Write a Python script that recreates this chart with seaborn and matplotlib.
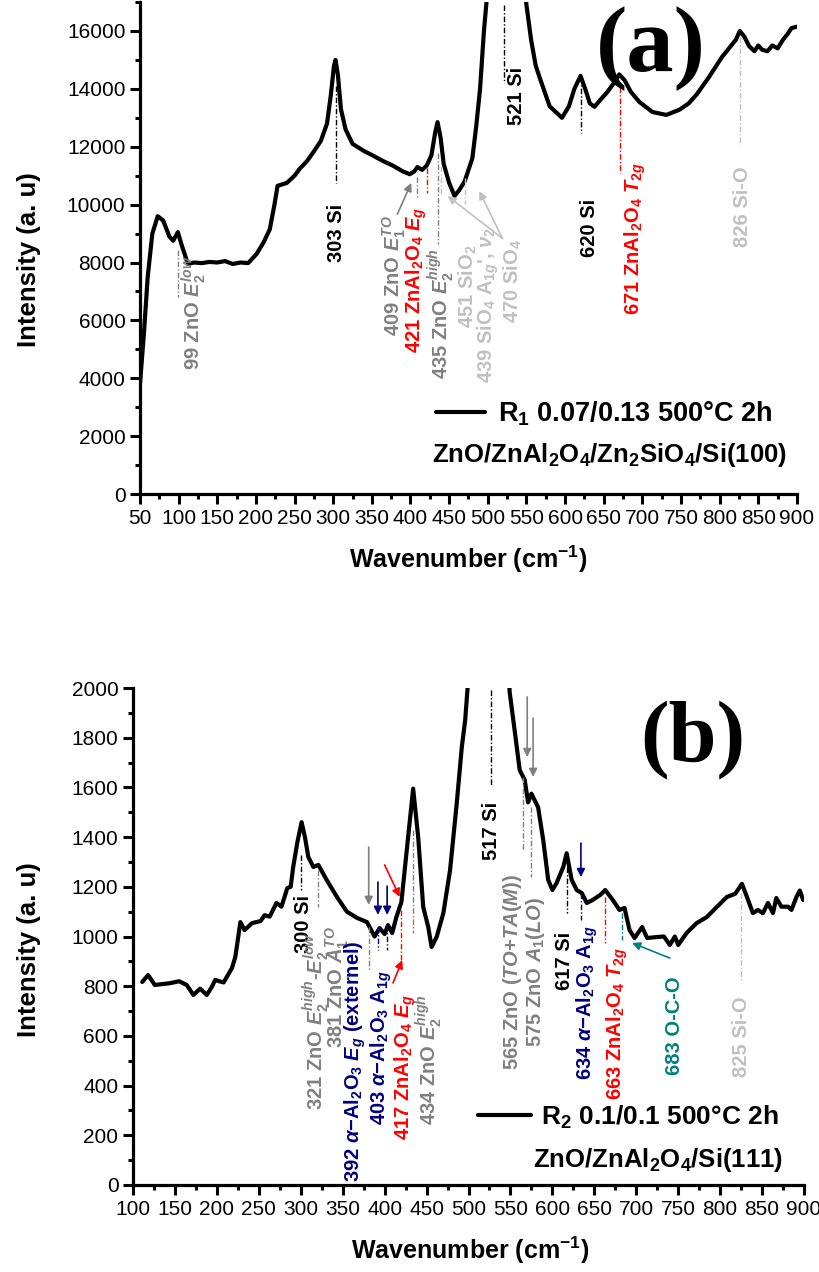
import matplotlib
matplotlib.use('Agg')
import matplotlib.pyplot as plt
import seaborn as sns
from matplotlib.ticker import MultipleLocator

# === Style ===
sns.set_theme(style='ticks')
plt.rcParams['font.family'] = ['Liberation Sans', 'DejaVu Sans']
plt.rcParams['font.weight'] = 'bold'
plt.rcParams['text.color'] = 'black'
plt.rcParams['axes.labelcolor'] = 'black'
plt.rcParams['xtick.color'] = 'black'
plt.rcParams['ytick.color'] = 'black'
plt.rcParams['mathtext.fontset'] = 'custom'
plt.rcParams['mathtext.rm'] = 'Liberation Sans:bold'
plt.rcParams['mathtext.it'] = 'Liberation Sans:italic:bold'
plt.rcParams['mathtext.bf'] = 'Liberation Sans:bold'

GRAY = '#808080'
LGRAY = '#c0c0c0'
NAVY = '#000080'
TEAL = '#008080'
RED = '#ff0000'
BLACK = '#000000'

# === Spectrum (a): R1, Si(100) ===
wn_a = [50, 55, 60, 66, 73, 80, 88, 93, 99, 104, 112, 120, 130, 140, 150, 160, 170, 180, 190, 201,
        210, 218, 224, 228, 240, 250, 257, 266, 274, 284, 292, 297, 301, 303, 306, 310, 316, 325, 340, 351,
        365, 377, 390, 399, 405, 409, 415, 421, 427, 432, 435, 439, 443, 450, 457, 463, 470, 480, 485, 490,
        495, 499, 505, 521, 540, 547, 550, 556, 562, 567, 580, 596, 605, 612, 620, 626, 632, 638, 645, 655,
        663, 670, 677, 685, 696, 713, 731, 748, 760, 770, 786, 803, 815, 821, 826, 832, 838, 845, 850, 855,
        862, 868, 875, 882, 888, 893, 900]
int_a = [3800, 5500, 7500, 9000, 9600, 9450, 8900, 8750, 9050, 8600, 7950, 8000, 7980, 8020, 8000, 8050, 7950, 8000, 7980, 8300,
         8700, 9150, 10000, 10650, 10750, 11000, 11250, 11500, 11800, 12200, 12800, 13800, 14800, 15000, 14500, 13300, 12600, 12100, 11850, 11700,
         11500, 11350, 11150, 11050, 11150, 11300, 11200, 11350, 11700, 12500, 12850, 12300, 11400, 10750, 10300, 10500, 10800, 11600, 12700, 14000,
         16000, 17200, 21000, 40000, 21000, 17800, 16900, 15700, 14800, 14400, 13400, 13000, 13400, 14000, 14450, 14000, 13500, 13380, 13600, 13900,
         14200, 14500, 14300, 13900, 13550, 13200, 13100, 13280, 13500, 13800, 14400, 15100, 15500, 15700, 16000, 15800, 15480, 15300, 15500, 15350,
         15300, 15500, 15400, 15700, 15900, 16100, 16150]

# === Spectrum (b): R2, Si(111) ===
wn_b = [111, 118, 126, 144, 155, 164, 172, 180, 188, 194, 198, 208, 218, 222, 228, 233, 242, 252, 257, 263,
        271, 277, 284, 288, 291, 296, 301, 305, 309, 315, 321, 331, 343, 355, 367, 379, 388, 394, 400, 404,
        409, 414, 420, 428, 434, 440, 446, 452, 456, 462, 470, 478, 486, 492, 496, 500, 510, 521, 535, 549,
        555, 561, 567, 571, 575, 583, 589, 595, 600, 605, 613, 617, 623, 629, 635, 641, 648, 657, 663, 672,
        680, 686, 692, 698, 707, 713, 725, 733, 740, 746, 750, 760, 772, 784, 796, 808, 818, 826, 832, 839,
        845, 851, 857, 863, 867, 873, 881, 885, 891, 895, 899]
int_b = [817, 845, 805, 812, 820, 805, 765, 790, 765, 797, 825, 815, 873, 918, 1058, 1026, 1054, 1062, 1086, 1080,
         1135, 1120, 1195, 1200, 1280, 1380, 1460, 1400, 1320, 1280, 1288, 1227, 1160, 1100, 1075, 1058, 1000, 1034, 1010, 1046,
         1014, 1078, 1139, 1400, 1595, 1400, 1119, 1038, 958, 998, 1094, 1267, 1537, 1762, 1870, 2050, 3500, 5000, 3500, 1985,
         1830, 1670, 1630, 1540, 1575, 1520, 1390, 1228, 1187, 1215, 1280, 1335, 1228, 1187, 1175, 1135, 1147, 1167, 1187, 1147,
         1107, 1115, 1026, 994, 1038, 994, 998, 1000, 966, 1000, 966, 1014, 1054, 1078, 1119, 1159, 1172, 1212, 1159, 1094,
         1107, 1094, 1135, 1094, 1155, 1120, 1120, 1107, 1159, 1185, 1147]

# === Peak markers: (wavenumber, y from, y to, colour) ===
marks_a = [(99, 8440, 6800, GRAY), (303, 14100, 10750, BLACK), (409, 10950, 10200, GRAY),
           (421, 11280, 10400, RED), (435, 11770, 8650, GRAY), (439, 11350, 10300, LGRAY),
           (470, 10930, 10020, LGRAY), (521, 16900, 14200, BLACK), (620, 14400, 12470, BLACK),
           (671, 14050, 11100, RED), (826, 15800, 12050, LGRAY)]
labels_a = [(119, 4270, '99 ZnO $E_2^{low}$', GRAY),
            (304, 8020, '303 Si', BLACK),
            (379, 5460, '409 ZnO $E_1^{TO}$', GRAY),
            (408, 4870, '421 ZnAl$_2$O$_4$ $E_g$', RED),
            (439, 3990, '435 ZnO $E_2^{high}$', GRAY),
            (474, 5740, '451 SiO$_2$', LGRAY),
            (500, 3820, "439 SiO$_4$ A$_{1g}$', $\\nu_2$", LGRAY),
            (533, 5920, '470 SiO$_4$', LGRAY),
            (537, 12750, '521 Si', BLACK),
            (631, 8200, '620 Si', BLACK),
            (691, 6200, '671 ZnAl$_2$O$_4$ $T_{2g}$', RED),
            (829, 8550, '826 Si-O', LGRAY)]
# arrows: (tail x, tail y, head x, head y, colour)
arrows_a = [(383, 9670, 401, 10750, GRAY), (519, 8830, 448, 10300, LGRAY), (519, 8830, 489, 10470, LGRAY)]

marks_b = [(300, 1328, 1187, BLACK), (321, 1268, 1119, GRAY), (381, 1038, 865, GRAY),
           (392, 1038, 946, NAVY), (403, 1046, 946, NAVY), (420, 1107, 905, RED),
           (434, 1429, 1014, GRAY), (527, 1992, 1610, BLACK), (565, 1642, 1348, GRAY),
           (575, 1521, 1239, GRAY), (617, 1280, 1095, BLACK), (634, 1175, 1066, NAVY),
           (663, 1159, 974, RED), (683, 1095, 986, TEAL), (825, 1175, 825, LGRAY)]
labels_b = [(303, 934, '300 Si', BLACK),
            (318, 302, '321 ZnO $E_2^{high}$-$E_2^{low}$', GRAY),
            (344, 551, '381 ZnO $A_1^{TO}$', GRAY),
            (365, 12, '392 $\\alpha$\u2212Al$_2$O$_3$ $E_g$ (externel)', NAVY),
            (396, 241, '403 $\\alpha$\u2212Al$_2$O$_3$ A$_{1g}$', NAVY),
            (424, 181, '417 ZnAl$_2$O$_4$ $E_g$', RED),
            (452, 241, '434 ZnO $E_2^{high}$', GRAY),
            (528, 1308, '517 Si', BLACK),
            (553, 463, '565 ZnO $(TO$+$TA(M))$', GRAY),
            (580, 555, '575 ZnO $A_1(LO)$', GRAY),
            (615, 785, '617 Si', BLACK),
            (642, 423, '634 $\\alpha$\u2212Al$_2$O$_3$ A$_{1g}$', NAVY),
            (677, 342, '663 ZnAl$_2$O$_4$ $T_{2g}$', RED),
            (746, 443, '683 O-C-O', TEAL),
            (826, 435, '825 Si-O', LGRAY)]
arrows_b = [(381, 1360, 381, 1127, GRAY), (392, 1219, 392, 1087, NAVY), (403, 1203, 403, 1087, NAVY),
            (400, 1288, 418, 1159, RED), (410, 813, 421, 905, RED), (570, 1964, 570, 1722, GRAY),
            (577, 1879, 577, 1642, GRAY), (634, 1376, 634, 1239, NAVY), (740, 913, 695, 974, TEAL)]

DASH = (0, (4, 1.5, 1, 1.5))
FS = 14.5


def style_axis(ax, xlim, ylim, xmaj, ymaj):
    ax.set_xlim(*xlim)
    ax.set_ylim(*ylim)
    ax.xaxis.set_major_locator(MultipleLocator(xmaj))
    ax.xaxis.set_minor_locator(MultipleLocator(xmaj / 2))
    ax.yaxis.set_major_locator(MultipleLocator(ymaj))
    ax.yaxis.set_minor_locator(MultipleLocator(ymaj / 2))
    ax.tick_params(which='major', direction='out', length=7, width=2.2, labelsize=15, pad=3.5)
    ax.tick_params(which='minor', direction='out', length=3.5, width=2.2)
    for lab in ax.get_xticklabels() + ax.get_yticklabels():
        lab.set_fontweight('normal')
    sns.despine(ax=ax)
    for sp in ['left', 'bottom']:
        ax.spines[sp].set_linewidth(2.3)
        ax.spines[sp].set_color('black')
    ax.set_xlabel('Wavenumber (cm$^{-1}$)', fontsize=18, fontweight='bold')
    ax.set_ylabel('Intensity (a. u)', fontsize=18.5, fontweight='bold')


def annotate(ax, marks, labels, arrows):
    for x, y0, y1, c in marks:
        ax.plot([x, x], [y0, y1], color=c, lw=1.0, ls=DASH)
    for x, y, s, c in labels:
        ax.text(x, y, s, rotation=90, ha='center', va='bottom', color=c,
                fontsize=FS, fontweight='bold')
    for x0, y0, x1, y1, c in arrows:
        ax.annotate('', xy=(x1, y1), xytext=(x0, y0),
                    arrowprops=dict(arrowstyle='-|>', color=c, lw=1.2, mutation_scale=12,
                                    shrinkA=0, shrinkB=0))


fig = plt.figure(figsize=(8.19, 12.72), dpi=100)
ax_a = fig.add_axes([0.1709, 0.6116, 0.8022, 0.3868])
ax_b = fig.add_axes([0.1624, 0.0684, 0.8193, 0.3907])

# --- panel (a) ---
sns.lineplot(x=wn_a, y=int_a, ax=ax_a, color='black', lw=3, sort=False,
             label='R$_1$ 0.07/0.13 500°C 2h')
style_axis(ax_a, (50, 900), (0, 17000), 50, 2000)
annotate(ax_a, marks_a, labels_a, arrows_a)
ax_a.legend(loc='center left', bbox_to_anchor=(0.4505, 0.163), frameon=False, borderpad=0,
            borderaxespad=0, handlelength=1.8, handletextpad=0.5,
            prop={'size': 19.5, 'weight': 'bold'})
ax_a.text(0.7154, 0.08, 'ZnO/ZnAl$_2$O$_4$/Zn$_2$SiO$_4$/Si(100)', transform=ax_a.transAxes,
          ha='center', va='center', fontsize=18.5, fontweight='bold')
ax_a.text(0.778, 0.905, '(a)', transform=ax_a.transAxes, ha='center', va='center',
          fontsize=68, fontweight='bold', family='Liberation Serif', color='black')
ax_a.yaxis.set_label_coords(-0.151, 0.477)
ax_a.xaxis.set_label_coords(0.499, -0.1)

# --- panel (b) ---
sns.lineplot(x=wn_b, y=int_b, ax=ax_b, color='black', lw=3, sort=False,
             label='R$_2$ 0.1/0.1 500°C 2h')
style_axis(ax_b, (100, 900), (0, 2000), 50, 200)
annotate(ax_b, marks_b, labels_b, arrows_b)
ax_b.legend(loc='center left', bbox_to_anchor=(0.514, 0.137), frameon=False, borderpad=0,
            borderaxespad=0, handlelength=2.0, handletextpad=0.4,
            prop={'size': 19, 'weight': 'bold'})
ax_b.text(0.782, 0.05, 'ZnO/ZnAl$_2$O$_4$/Si(111)', transform=ax_b.transAxes,
          ha='center', va='center', fontsize=18.5, fontweight='bold')
ax_b.text(0.835, 0.895, '(b)', transform=ax_b.transAxes, ha='center', va='center',
          fontsize=62, fontweight='bold', family='Liberation Serif', color='black')
ax_b.yaxis.set_label_coords(-0.137, 0.473)
ax_b.xaxis.set_label_coords(0.502, -0.1)

fig.savefig('out.png', dpi=100)
